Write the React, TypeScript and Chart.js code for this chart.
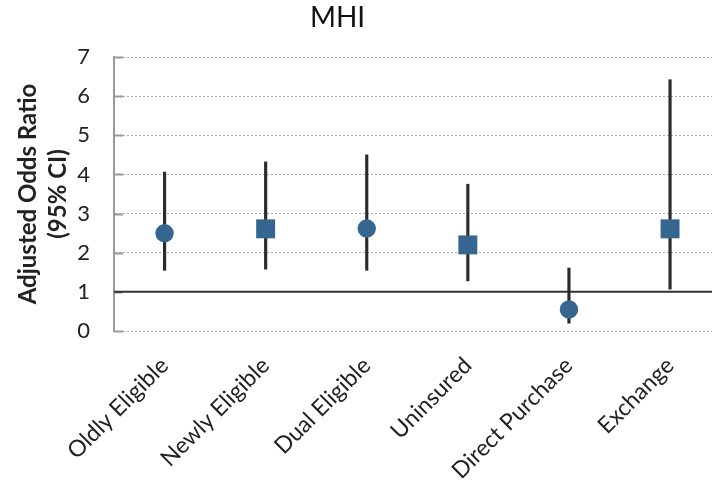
import React, { useEffect, useRef } from "react";
import { Chart, registerables } from "chart.js";

Chart.register(...registerables);

const chartTitle = "MHI";
const categories = [
  "Oldly Eligible",
  "Newly Eligible",
  "Dual Eligible",
  "Uninsured",
  "Direct Purchase",
  "Exchange",
];
const estimates = [2.5, 2.61, 2.62, 2.2, 0.55, 2.61];
const lowerCI = [1.55, 1.58, 1.55, 1.28, 0.2, 1.07];
const upperCI = [4.06, 4.32, 4.5, 3.75, 1.61, 6.42];
const markerShapes = ["circle", "rect", "circle", "rect", "circle", "rect"];
const yTicks = [0, 1, 2, 3, 4, 5, 6, 7];
const referenceValue = 1;
const xMin = -0.5;
const xMax = 5.415;

const FONT = "Lato, 'Open Sans', sans-serif";
const MARKER = "#356690";

export default function App() {
  const ref = useRef<HTMLCanvasElement | null>(null);

  useEffect(() => {
    const canvas = ref.current;
    if (!canvas) return;

    const extras = {
      id: "extras",
      beforeDatasetsDraw(chart: any) {
        const { ctx, chartArea, scales } = chart;
        const y = scales.y;
        ctx.save();
        ctx.strokeStyle = "#999";
        ctx.lineWidth = 2;
        yTicks.forEach((v) => {
          const py = Math.round(y.getPixelForValue(v)) + 0.5;
          ctx.beginPath();
          ctx.moveTo(chartArea.left, py);
          ctx.lineTo(chartArea.left + 9, py);
          ctx.stroke();
        });
        const ry = y.getPixelForValue(referenceValue);
        ctx.strokeStyle = "#333";
        ctx.lineWidth = 2;
        ctx.beginPath();
        ctx.moveTo(chartArea.left, ry);
        ctx.lineTo(chartArea.right, ry);
        ctx.stroke();
        ctx.restore();
      },
      afterDraw(chart: any) {
        const { ctx } = chart;
        ctx.save();
        ctx.font = `28px ${FONT}`;
        ctx.fillStyle = "#111";
        ctx.textAlign = "center";
        ctx.textBaseline = "middle";
        ctx.fillText(chartTitle, 337.5, 18);
        ctx.restore();
      },
    };

    const chart = new Chart(canvas, {
      type: "bar",
      data: {
        datasets: [
          {
            type: "scatter",
            order: 0,
            clip: false,
            data: categories.map((_, i) => ({ x: i, y: estimates[i] })),
            pointStyle: markerShapes as any,
            pointRadius: markerShapes.map((s) => (s === "rect" ? 13.4 : 9.2)),
            pointBackgroundColor: MARKER,
            pointBorderColor: MARKER,
            pointBorderWidth: 0,
          } as any,
          {
            type: "bar",
            order: 1,
            data: categories.map((_, i) => ({ x: i, y: [lowerCI[i], upperCI[i]] })),
            backgroundColor: "#2b2b2b",
            barThickness: 2.5,
            borderWidth: 0,
          } as any,
        ],
      },
      options: {
        responsive: false,
        animation: false,
        layout: { autoPadding: false, padding: { top: 57, left: 0, right: 0, bottom: 0 } },
        plugins: {
          legend: { display: false },
          tooltip: { enabled: false },
          title: { display: false },
        },
        scales: {
          x: {
            type: "linear",
            bounds: "data",
            min: xMin,
            max: xMax,
            offset: false,
            grid: { display: false, drawTicks: false },
            border: { display: false },
            afterBuildTicks: (axis: any) => {
              axis.ticks = categories.map((_, i) => ({ value: i }));
              axis.min = xMin;
              axis.max = xMax;
            },
            afterFit: (scale: any) => {
              scale.height = 158;
              scale.paddingLeft = 0;
              scale.paddingRight = 0;
            },
            ticks: {
              autoSkip: false,
              minRotation: 45,
              maxRotation: 45,
              padding: 21,
              color: "#222",
              font: { family: FONT, size: 23 },
              callback: (v: any) => categories[v as number] ?? "",
            },
          },
          y: {
            type: "linear",
            min: 0,
            max: 7,
            afterBuildTicks: (axis: any) => {
              axis.ticks = yTicks.map((v) => ({ value: v }));
            },
            afterFit: (scale: any) => {
              scale.width = 114;
              scale.paddingTop = 0;
              scale.paddingBottom = 0;
            },
            grid: {
              color: "#aaa",
              lineWidth: 1,
              drawTicks: false,
            },
            border: { display: true, color: "#999", width: 2, dash: [2, 2] },
            ticks: {
              padding: 24,
              color: "#222",
              font: { family: FONT, size: 22 },
            },
            title: {
              display: true,
              text: ["Adjusted Odds Ratio", "(95% CI)"],
              color: "#222",
              font: { family: FONT, size: 24, weight: "bold", lineHeight: 1.25 },
              padding: { top: 13, bottom: 4 },
            },
          },
        },
      },
      plugins: [extras],
    } as any);

    return () => chart.destroy();
  }, []);

  return (
    <div style={{ position: "absolute", left: 0, top: 0, width: 712, height: 489 }}>
      <canvas ref={ref} width={712} height={489} />
    </div>
  );
}
